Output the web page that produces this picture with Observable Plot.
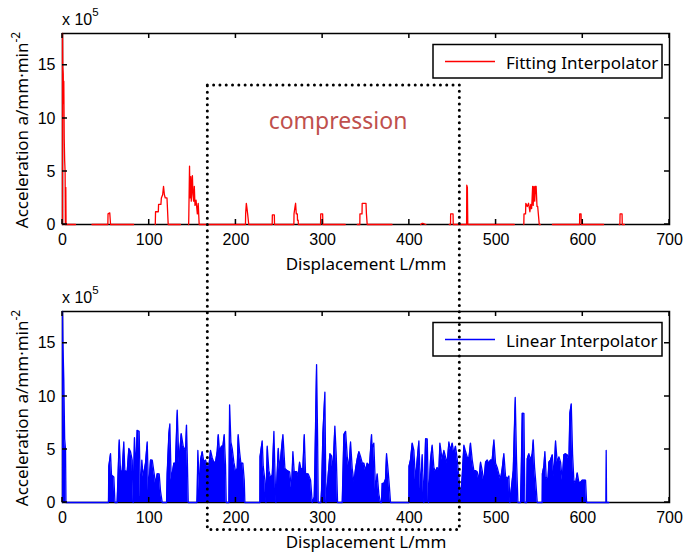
<!DOCTYPE html>
<html><head><meta charset="utf-8">
<script src="https://cdn.jsdelivr.net/npm/d3@7"></script>
<script src="https://cdn.jsdelivr.net/npm/@observablehq/plot@0.6"></script>
<style>
body{margin:0;background:#fff;}
#wrap{position:relative;width:685px;height:555px;overflow:hidden;background:#fff;}
#wrap svg{position:absolute;left:0;}
</style></head><body><div id="wrap"></div>
<script>
// x tick and y tick values (y in units of 1e5)
const xTicks = [0, 100, 200, 300, 400, 500, 600, 700];
const yTicks = [0, 5, 10, 15];

// Fitting Interpolator: [displacement mm, acceleration x1e5]; null = gap in the trace
const fittingSeries = [
  [0,0],[0,18],[0.3,14.8],[0.8,14.2],[1.2,11.4],[1.5,13.5],[2.0,8],[2.5,6],[3.0,5],[3.3,0],[3.7,0],[3.8,3.5],[4.1,0],[15,0],[15,null],
  [34,0],[52.3,0],[52.5,1.0],[54.5,1.1],[55.4,0],[82,0],[82,null],
  [107,0],[107.3,1.2],[110.5,1.2],[110.8,1.9],[113.5,1.9],[114,2.5],[115.5,2.8],[116.5,3.6],[117.5,2.8],[118.5,2.5],[120.5,2.5],[121.9,0],[136,0],[136,null],
  [145.5,0],[145.7,1.0],[146.5,5.5],[147,2.5],[147.5,3.5],[148,4.5],[148.5,2.2],[149.2,3.6],[149.8,4.6],[150.5,2.8],[151.2,2.2],[152,3.6],[152.8,1.8],[154,2.3],[155.5,1.0],[156.5,2.0],[157.6,0],
  [211,0],[211.2,1.0],[212,2.0],[212.8,1.5],[213.5,1.0],[214.8,0],
  [241.8,0],[242,0.9],[244.3,0.9],[244.5,0],
  [266.8,0],[267,1.0],[268,1.6],[268.8,2.0],[269.6,1.0],[270.8,1.0],[271,0.4],[271.8,0.4],[272,0],
  [297.6,0],[297.8,1.0],[300,1.0],[300.3,0],[326,0],[326,null],
  [340,0],[342.9,0],[343,1.0],[345.4,1.0],[345.6,2.0],[350,2.0],[350.5,1.0],[351.4,0],[380,0],[380,null],
  [413,0],[414.5,0.1],[415.5,0.1],[419,0],[419,null],
  [446,0],[447.5,0],[447.6,1.0],[450.4,1.0],[450.6,0],[466,0],[466.2,3.7],[466.9,3.5],[467.4,0],[521,0],[521,null],
  [532,0],[532.2,1.0],[534,1.0],[534.3,2.0],[536,1.7],[537.5,2.0],[539,1.2],[540,1.9],[541,1.5],[542.2,3.6],[542.8,1.8],[543.8,3.6],[544.6,2.2],[545.4,3.6],[546.2,3.6],[547.2,1.7],[548,1.7],[549.8,0],[551,0],[551,null],
  [565,0],[596.3,0],[596.4,1.0],[598,1.0],[598.3,0],[624,0],[624,null],
  [642,0],[642.8,0],[643,1.0],[645.3,1.0],[645.5,0],[648,0]
];

// Linear Interpolator: [displacement mm, acceleration x1e5]
const linearSeries = [
  [0,0],[0,18],[0.5,15],[1.5,11.6],[2.5,6],[3.5,5],[4,0],[53,0],
  [53.4,3.4],[55.4,4.6],[56.5,2.6],[59.2,2.4],[60.5,0],[63,0],[65.4,5.9],[66.9,3.0],[68.8,2.9],[70.7,5.7],[71.9,3.0],[74.6,2.9],
  [76.5,5.1],[78.4,4.8],[80.4,4.0],[81.5,0],[83,6.1],[84.6,3.0],[86.1,6.8],[88.4,6.7],[89.9,0.5],[91.5,4.0],[93,2.4],[95.7,3.7],
  [97.7,5.7],[99.2,1.0],[101.5,4.0],[103.5,4.0],[105.4,2.9],[107.3,1.8],[109.2,2.7],[111.5,2.7],[113,1.1],[115,0],[120,0],
  [120.7,2.7],[122.7,6.5],[123.8,7.4],[125.3,2.1],[128.4,3.7],[130.3,3.7],[132.3,8.7],[134.2,3.7],[136.9,6.5],[139.2,5.3],
  [141.9,4.9],[143,7.3],[143.8,4.6],[145,0],[155,0],[155.3,0.8],[156.1,4.9],[158,1.1],[159.2,4.0],[161.1,4.8],[163,3.8],
  [165,4.0],[166.9,3.4],[168.8,3.4],[170.7,4.9],[172.7,4.2],[174.6,3.8],[176.5,3.8],[178.4,4.8],[179.6,6.4],[181.1,4.8],
  [183.4,5.3],[185,5.3],[186.5,6.4],[188,3.5],[188.8,0],[191.9,0],[192.7,9.2],[194.2,5.7],[195.7,5.1],[197.6,3.8],[199.6,2.9],
  [201.5,3.2],[202.6,6.4],[204.2,4.8],[205.7,3.7],[208,3.7],[209.6,2.1],[210.3,0],[227.6,0],
  [227.8,4.3],[230.3,5.8],[231.5,3.4],[233.4,2.1],[234.6,0],[236.1,5.3],[238,3.0],[240,2.3],[241.9,2.6],[243.8,6.7],[245,2.9],
  [246.1,0],[248.8,5.1],[250.3,3.0],[252.6,5.1],[254.2,6.4],[256.5,3.2],[259.2,3.0],[261.9,2.9],[264.2,1.3],[265.7,4.8],
  [267.2,2.9],[270.3,2.9],[271.9,2.5],[273.4,3.8],[274.9,3.2],[277.2,3.2],[278.8,6.4],[280.3,2.7],[283.4,2.7],[286.1,2.1],
  [288,0],[290.3,0.5],[291.1,3.7],[293,13.0],[294.2,6.0],[294.9,0],[298,0],[298.8,1.3],[300.3,6.5],[302.6,10.4],[303.8,0],
  [306.5,2.7],[308.4,4.6],[310.3,4.4],[311.8,2.9],[314.1,7.2],[315.7,4.4],[317.2,0],[322.6,0],[324.5,6.4],[326.5,6.7],
  [328.4,4.3],[330.3,3.2],[332.2,5.7],[334.1,3.2],[336.1,1.9],[338,3.2],[339.9,4.1],[341.8,4.8],[343.8,4.3],[345.7,3.7],
  [347.6,3.7],[349.5,3.0],[351.4,3.7],[354.1,3.5],[356.4,6.4],[357.1,5.1],[359,5.6],[361,1.1],[362.9,2.7],[364.8,0.8],
  [366.7,0],[367.9,0],[368.7,1.8],[370.6,1.8],[372.5,2.2],[373.7,4.6],[375.2,3.3],[376.7,1.8],[378.3,0],[399.4,0],
  [399.6,3.4],[401.3,4.0],[403.3,5.6],[405.2,4.9],[407.1,2.1],[409,4.0],[411,5.8],[412.9,1.1],[414.8,4.5],[416.7,0],
  [418.7,6.0],[420.6,6.0],[422.1,0],[424.4,4.0],[426.3,5.4],[428.3,3.3],[430.2,2.9],[432.1,3.3],[434,2.9],[435.2,5.6],
  [437.9,4.0],[439.8,4.9],[441.7,4.3],[443.6,3.7],[445.6,5.7],[447.5,4.9],[449.4,5.6],[451.3,4.6],[453.2,5.3],[455.2,4.1],
  [457.1,2.4],[459,0.3],[460.9,2.4],[462.9,5.4],[464.8,4.8],[466.7,4.3],[468.6,4.1],[470.5,5.6],[472.5,4.0],[474.4,3.0],
  [476.3,3.0],[478.2,2.9],[480.2,2.1],[482.1,3.8],[484,3.0],[485.9,1.9],[487.9,3.8],[489.8,4.0],[491.7,3.7],[493.6,4.0],
  [495.5,4.0],[497.5,5.9],[499.4,3.7],[501.3,3.3],[503.2,2.7],[505.2,2.2],[507.1,3.2],[509,4.6],[510.9,2.5],[512.9,2.2],
  [514.8,2.5],[515.9,0],[519.8,3.0],[522.1,9.9],[523.6,4.0],[525.2,0],[528.2,0],[529,2.9],[530.2,8.4],[532.1,8.4],[533.2,0],
  [535.2,0],[535.9,4.1],[537.8,4.6],[539.8,4.0],[541.7,4.6],[542.8,5.9],[544.4,3.3],[545.9,1.8],[547.5,0],[553.2,0],
  [553.4,2.7],[555.1,3.4],[556.3,4.8],[557.8,2.4],[559.8,2.1],[560.9,3.8],[562.8,4.0],[564.8,4.5],[566.7,2.4],[568.6,5.8],
  [570.5,3.8],[572.5,4.3],[574.4,3.8],[576.3,2.1],[578.2,4.5],[580.1,4.6],[582.1,4.5],[584,4.0],[585.1,8.4],[586.7,9.3],
  [588.2,4.6],[589.7,2.1],[591.7,1.8],[593.6,2.8],[595.5,1.9],[597.4,1.9],[599.4,2.1],[601.3,2.1],[603.2,2.1],[604.4,0],
  [626.8,0],[627,4.9],[627.4,0],[630,0]
];

const W = 685, H = 278, ML = 62, MR = 16, MT = 33, MB = 54, TICK = 5;

function panel(series, color, filled, legendLabel) {
  const data = series.map(([x, y]) => ({x, y}));
  const svg = Plot.plot({
    width: W, height: H, marginLeft: ML, marginRight: MR, marginTop: MT, marginBottom: MB,
    x: {domain: [0, 700]},
    y: {domain: [0, 18]},
    style: {fontFamily: "Liberation Sans", fontSize: "16px", color: "#000", background: "transparent"},
    marks: [
      Plot.frame({stroke: "#000", strokeWidth: 1.5}),
      Plot.axisX({anchor: "bottom", ticks: xTicks, tickSize: 0, tickPadding: 9, label: null}),
      Plot.axisY({anchor: "left", ticks: yTicks, tickSize: 0, tickPadding: 7, label: null}),
      filled ? Plot.areaY(data, {x: "x", y: "y", fill: color}) : null,
      Plot.lineY(data, {x: "x", y: "y", stroke: color, strokeWidth: 1.3})
    ]
  });
  const s = d3.select(svg);
  const sx = svg.scale("x"), sy = svg.scale("y");
  const x0 = sx.apply(0), x1 = sx.apply(700), y0 = sy.apply(0), y1 = sy.apply(18);
  // inward ticks on all four sides, placed with the plot's own scales
  const tg = s.append("g").attr("stroke", "#000").attr("stroke-width", 1.5).attr("fill", "none");
  xTicks.forEach(t => {
    const px = sx.apply(t);
    tg.append("path").attr("d", `M${px},${y0}v${-TICK}M${px},${y1}v${TICK}`);
  });
  yTicks.forEach(t => {
    const py = sy.apply(t);
    tg.append("path").attr("d", `M${x0},${py}h${TICK}M${x1},${py}h${-TICK}`);
  });
  // multiplier label
  const m = s.append("text").attr("x", 62).attr("y", 25).attr("text-anchor", "start")
    .attr("font-family", "Liberation Sans").attr("font-size", 16).attr("fill", "#000");
  m.append("tspan").text("x 10");
  m.append("tspan").attr("dy", -9).attr("font-size", 11.5).text("5");
  // y label
  const yl = s.append("text").attr("transform", "translate(28,130) rotate(-90)")
    .attr("text-anchor", "middle").attr("font-family", "Noto Sans").attr("font-size", 17).attr("fill", "#000");
  yl.append("tspan").text("Acceleration a/mm\u00b7min");
  yl.append("tspan").attr("dy", -8).attr("font-size", 12).text("-2");
  // x label
  s.append("text").attr("x", 366).attr("y", 270).attr("text-anchor", "middle")
    .attr("font-family", "Noto Sans").attr("font-size", 17).attr("fill", "#000").text("Displacement L/mm");
  // legend
  const lg = s.append("g");
  lg.append("rect").attr("x", 433).attr("y", 44.5).attr("width", 229).attr("height", 33.5)
    .attr("fill", "#fff").attr("stroke", "#000").attr("stroke-width", 1.5);
  lg.append("path").attr("d", "M445,61.5H495").attr("fill", "none")
    .attr("stroke", color).attr("stroke-width", 1.3);
  lg.append("text").attr("x", 506).attr("y", 68.5).attr("text-anchor", "start").attr("font-family", "Noto Sans")
    .attr("font-size", 17).attr("fill", "#000").text(legendLabel);
  return svg;
}

const wrap = document.getElementById("wrap");
const top1 = panel(fittingSeries, "#ff0000", false, "Fitting Interpolator");
top1.style.top = "0px";
wrap.appendChild(top1);
const BOT = 278;
const bot1 = panel(linearSeries, "#0000ff", true, "Linear Interpolator");
bot1.style.top = BOT + "px";
wrap.appendChild(bot1);

// compression annotation + dotted region (over both panels)
const xs = top1.scale("x"), ysTop = top1.scale("y"), ysBot = bot1.scale("y");
const region = {x1: 167.6, x2: 458.2, yTop: 13.1, yBottom: -2.6};
const ov = d3.select(wrap).append("svg").attr("width", W).attr("height", 555).style("top", "0px").style("pointer-events", "none");
const rx1 = xs.apply(region.x1), rx2 = xs.apply(region.x2);
const ry1 = ysTop.apply(region.yTop), ry2 = BOT + ysBot.apply(region.yBottom);
ov.append("rect").attr("x", rx1).attr("y", ry1).attr("width", rx2 - rx1).attr("height", ry2 - ry1)
  .attr("fill", "none").attr("stroke", "#000").attr("stroke-width", 3)
  .attr("stroke-dasharray", "0 6.3").attr("stroke-linecap", "round");
ov.append("text").attr("x", 338).attr("y", 129).attr("text-anchor", "middle")
  .attr("font-family", "Noto Sans").attr("font-size", 23).attr("fill", "#c0504d").text("compression");
</script></body></html>
